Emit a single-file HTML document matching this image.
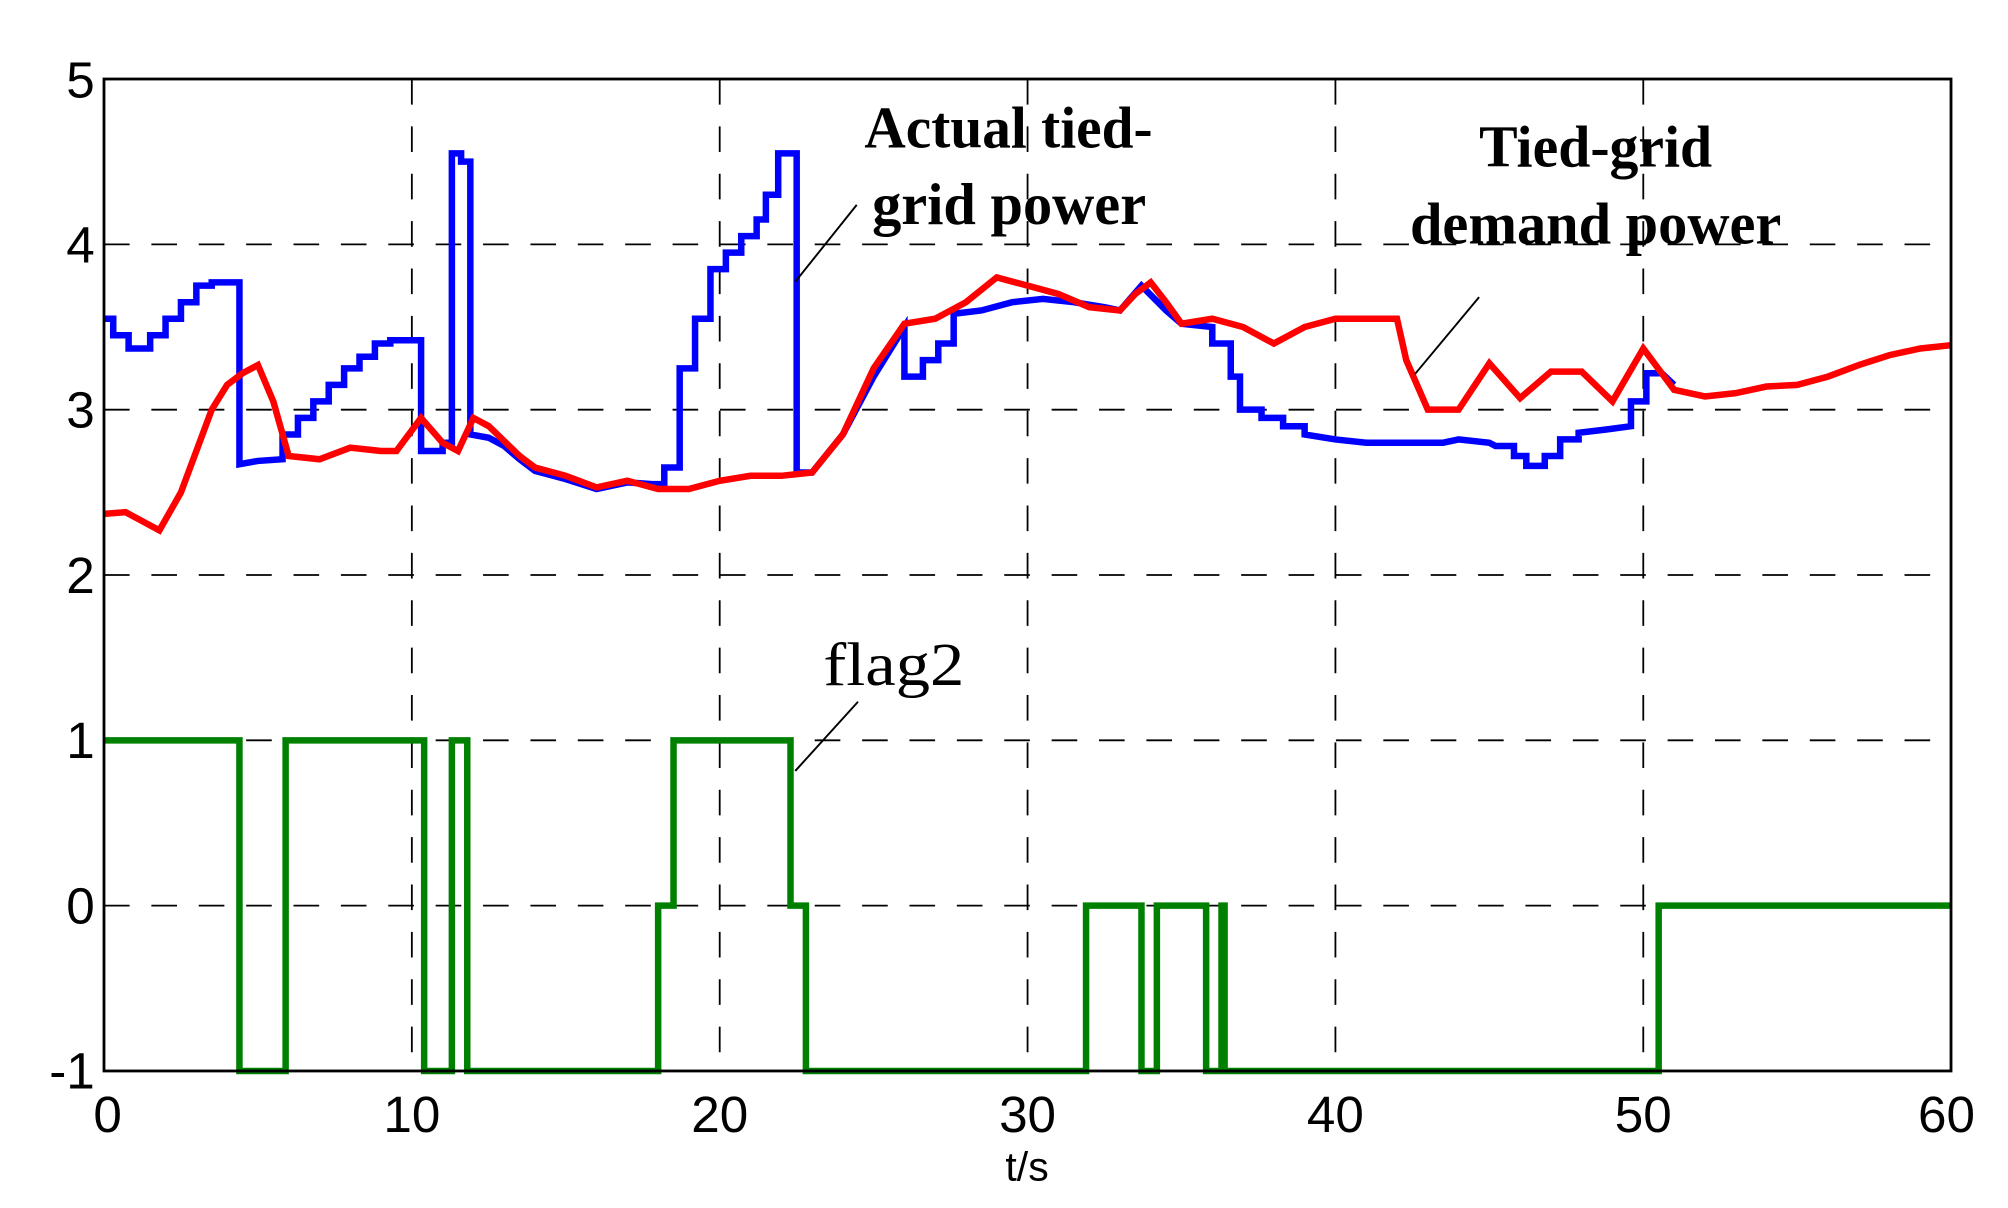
<!DOCTYPE html>
<html><head><meta charset="utf-8"><style>html,body{margin:0;padding:0;background:#fff}svg{display:block}</style></head>
<body>
<svg width="2008" height="1208" viewBox="0 0 1568 943.3" xmlns="http://www.w3.org/2000/svg">
<rect width="1568" height="943.3" fill="#fff"/>
<g stroke="#000" stroke-width="1.4" stroke-dasharray="20,17" fill="none">
<line x1="81.2" y1="190.8" x2="1523.5" y2="190.8"/>
<line x1="81.2" y1="319.9" x2="1523.5" y2="319.9"/>
<line x1="81.2" y1="449" x2="1523.5" y2="449"/>
<line x1="81.2" y1="578.1" x2="1523.5" y2="578.1"/>
<line x1="81.2" y1="707.2" x2="1523.5" y2="707.2"/>
<line x1="321.6" y1="61.7" x2="321.6" y2="836.3"/>
<line x1="562" y1="61.7" x2="562" y2="836.3"/>
<line x1="802.4" y1="61.7" x2="802.4" y2="836.3"/>
<line x1="1042.8" y1="61.7" x2="1042.8" y2="836.3"/>
<line x1="1283.2" y1="61.7" x2="1283.2" y2="836.3"/>
</g>
<g transform="translate(81.2,707.2) scale(24.04,-129.1)" fill="none" stroke-linejoin="miter">
<polyline vector-effect="non-scaling-stroke" stroke="#0000ff" stroke-width="6.5" points="0,3.55 0.3,3.55 0.3,3.45 0.8,3.45 0.8,3.37 1.5,3.37 1.5,3.45 2,3.45 2,3.55 2.5,3.55 2.5,3.65 3,3.65 3,3.75 3.5,3.75 3.5,3.77 4.4,3.77 4.4,2.67 5,2.69 5.8,2.7 5.8,2.85 6.3,2.85 6.3,2.95 6.8,2.95 6.8,3.05 7.3,3.05 7.3,3.15 7.8,3.15 7.8,3.25 8.3,3.25 8.3,3.32 8.8,3.32 8.8,3.4 9.3,3.4 9.3,3.42 10.3,3.42 10.3,2.75 11,2.75 11,2.8 11.3,2.8 11.3,4.55 11.6,4.55 11.6,4.5 11.9,4.5 11.9,2.85 12.5,2.83 13,2.78 13.5,2.7 14,2.63 15,2.58 16,2.52 17,2.56 17.8,2.55 18.2,2.55 18.2,2.65 18.7,2.65 18.7,3.25 19.2,3.25 19.2,3.55 19.7,3.55 19.7,3.85 20.2,3.85 20.2,3.95 20.7,3.95 20.7,4.05 21.2,4.05 21.2,4.15 21.5,4.15 21.5,4.3 21.9,4.3 21.9,4.55 22.5,4.55 22.5,2.62 23,2.62 24,2.85 25,3.2 26,3.5 26,3.2 26.6,3.2 26.6,3.3 27.1,3.3 27.1,3.4 27.6,3.4 27.6,3.58 28.5,3.6 29.5,3.65 30.5,3.67 31.5,3.65 32.5,3.62 33,3.6 33.7,3.75 34.5,3.6 35,3.52 36,3.5 36,3.4 36.6,3.4 36.6,3.2 36.9,3.2 36.9,3.0 37.6,3.0 37.6,2.95 38.3,2.95 38.3,2.9 39,2.9 39,2.85 40,2.82 41,2.8 43.5,2.8 44,2.82 45,2.8 45.2,2.78 45.8,2.78 45.8,2.72 46.2,2.72 46.2,2.66 46.8,2.66 46.8,2.72 47.3,2.72 47.3,2.82 47.9,2.82 47.9,2.86 48.8,2.88 49.6,2.9 49.6,3.05 50.1,3.05 50.1,3.22 50.6,3.22 51,3.15"/>
<polyline vector-effect="non-scaling-stroke" stroke="#ff0000" stroke-width="6.5" points="0,2.37 0.7,2.38 1.2,2.33 1.8,2.27 2.5,2.5 3,2.75 3.5,3 4,3.15 4.5,3.22 5,3.27 5.5,3.05 6,2.72 7,2.7 8,2.77 9,2.75 9.5,2.75 10.3,2.95 11,2.8 11.5,2.75 12,2.95 12.5,2.9 13.5,2.72 14,2.65 15,2.6 16,2.53 17,2.57 18,2.52 19,2.52 20,2.57 21,2.6 22,2.6 23,2.62 24,2.85 25,3.25 26,3.52 27,3.55 28,3.65 29,3.8 30,3.75 31,3.7 32,3.62 33,3.6 33.5,3.7 34,3.77 34.5,3.65 35,3.52 36,3.55 37,3.5 38,3.4 39,3.5 40,3.55 42,3.55 42.3,3.3 43,3.0 44,3.0 45,3.28 46,3.07 47,3.23 48,3.23 49,3.05 50,3.37 51,3.12 52,3.08 53,3.1 54,3.14 55,3.15 56,3.2 57,3.27 58,3.33 59,3.37 60,3.39"/>
<polyline vector-effect="non-scaling-stroke" stroke="#008000" stroke-width="6.5" points="0,1 4.4,1 4.4,-1 5.9,-1 5.9,1 10.4,1 10.4,-1 11.3,-1 11.3,1 11.8,1 11.8,-1 18,-1 18,0 18.5,0 18.5,1 22.3,1 22.3,0 22.8,0 22.8,-1 31.9,-1 31.9,0 33.7,0 33.7,-1 34.2,-1 34.2,0 35.8,0 35.8,-1 36.3,-1 36.3,0 36.4,0 36.4,-1 50.5,-1 50.5,0 60,0"/>
</g>
<rect x="81.2" y="61.7" width="1442.3" height="774.6" fill="none" stroke="#000" stroke-width="2.2"/>
<g font-family="Liberation Sans, sans-serif" font-size="40" fill="#000" text-anchor="end">
<text x="74" y="76">5</text><text x="74" y="205">4</text><text x="74" y="334">3</text><text x="74" y="463">2</text><text x="74" y="592">1</text><text x="74" y="721">0</text><text x="74" y="850">-1</text>
</g>
<g font-family="Liberation Sans, sans-serif" font-size="40" fill="#000" text-anchor="middle">
<text x="84" y="884">0</text><text x="321.6" y="884">10</text><text x="562" y="884">20</text><text x="802.4" y="884">30</text><text x="1042.8" y="884">40</text><text x="1283.2" y="884">50</text><text x="1520" y="884">60</text>
<text x="802" y="922" font-size="32">t/s</text>
</g>
<g font-family="Liberation Serif, serif" font-weight="bold" font-size="46" fill="#000">
<text x="675" y="115" textLength="225" lengthAdjust="spacingAndGlyphs">Actual tied-</text>
<text x="681" y="175" textLength="214" lengthAdjust="spacingAndGlyphs">grid power</text>
<text x="1155" y="130" textLength="182" lengthAdjust="spacingAndGlyphs">Tied-grid</text>
<text x="1101" y="190" textLength="290" lengthAdjust="spacingAndGlyphs">demand power</text>
</g>
<text x="643" y="535" font-family="Liberation Serif, serif" font-size="48" fill="#000" textLength="110" lengthAdjust="spacingAndGlyphs">flag2</text>
<g stroke="#000" stroke-width="1.5">
<line x1="621" y1="220" x2="669" y2="160"/>
<line x1="1105" y1="292" x2="1155" y2="232"/>
<line x1="621" y1="602" x2="670" y2="548"/>
</g>
</svg>
</body></html>
